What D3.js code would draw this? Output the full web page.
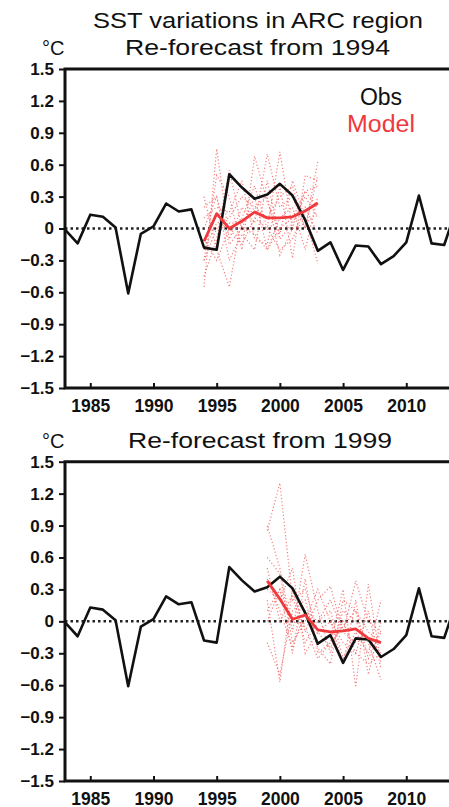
<!DOCTYPE html>
<html>
<head>
<meta charset="utf-8">
<script src="https://cdn.jsdelivr.net/npm/d3@7"></script>
<style>
html,body{margin:0;padding:0;background:#fff;}
svg{display:block;}
text{font-family:"Liberation Sans",Arial,Helvetica,sans-serif;}
</style>
</head>
<body>
<svg id="chart" width="449" height="807"></svg>
<script>
// ---------------- DATA ----------------
const obsYears = d3.range(1983, 2015);
const obsValues = [-0.01,-0.14,0.13,0.11,0.01,-0.61,-0.05,0.02,0.235,0.16,0.18,-0.18,-0.20,0.51,0.385,0.28,0.32,0.42,0.31,0.08,-0.21,-0.13,-0.39,-0.16,-0.17,-0.335,-0.26,-0.13,0.31,-0.14,-0.155,0.2];

const yearsA = d3.range(1994, 2004);
const modelMeanA = [-0.12,0.14,0.0,0.07,0.155,0.10,0.10,0.11,0.165,0.24];
const membersA = [
  [-0.55,0.75,-0.10,0.20,0.05,0.70,0.20,0.30,0.00,0.63],
  [0.30,-0.20,-0.55,0.10,0.40,0.00,0.72,0.00,0.35,0.20],
  [-0.30,0.50,0.30,-0.20,0.68,0.25,-0.05,0.45,0.10,-0.33],
  [0.10,0.20,0.15,0.45,-0.10,-0.15,0.40,-0.28,0.50,0.45],
  [-0.45,-0.10,0.55,0.00,0.30,-0.20,0.10,0.20,-0.20,0.30],
  [0.20,0.30,-0.30,-0.05,-0.20,0.45,-0.10,0.05,0.30,0.10],
  [-0.20,0.05,0.10,0.30,0.20,0.10,0.30,0.40,0.00,0.50],
  [-0.10,-0.30,0.00,-0.15,0.10,0.00,-0.20,-0.10,0.20,-0.05],
  [0.00,0.30,-0.15,0.00,-0.05,-0.20,0.00,0.10,0.35,0.40],
  [-0.30,0.00,0.05,0.05,0.20,0.30,-0.25,0.00,0.05,0.15]
];

const yearsB = d3.range(1999, 2009);
const modelMeanB = [0.38,0.21,0.02,0.06,-0.08,-0.10,-0.09,-0.07,-0.16,-0.20];
const membersB = [
  [0.85,1.30,0.20,0.30,-0.10,0.00,-0.20,-0.30,-0.40,-0.30],
  [0.90,0.50,-0.10,0.63,0.10,-0.30,0.10,0.00,-0.20,-0.55],
  [0.20,-0.57,0.30,-0.10,0.20,0.33,-0.10,0.38,0.00,-0.10],
  [0.00,0.30,-0.30,0.40,-0.30,-0.20,0.30,-0.62,0.35,-0.40],
  [0.50,0.00,0.25,-0.20,0.00,0.10,-0.35,-0.10,-0.30,0.20],
  [-0.20,-0.50,0.10,0.20,-0.25,-0.40,0.20,0.10,-0.10,-0.20],
  [0.60,0.45,-0.20,0.00,0.30,0.00,-0.40,0.20,-0.50,0.00],
  [0.30,0.20,0.50,-0.30,-0.10,-0.25,0.00,-0.30,0.10,-0.45],
  [0.40,0.10,-0.25,0.10,0.00,0.20,-0.10,-0.20,-0.15,-0.30],
  [0.10,0.30,0.00,-0.05,-0.35,-0.20,-0.05,0.10,-0.35,-0.10]
];

const yTickValues = [-1.5,-1.2,-0.9,-0.6,-0.3,0,0.3,0.6,0.9,1.2,1.5];
const xTickValues = [1985,1990,1995,2000,2005,2010];
const mainTitle = "SST variations in ARC region";
const panelTitles = ["Re-forecast from 1994", "Re-forecast from 1999"];
const unitLabel = "\u00B0C";
const legendLabels = ["Obs", "Model"];

// ---------------- DRAW ----------------
const svg = d3.select("#chart");
const W = 449;
const left = 65;
const x = d3.scaleLinear().domain([1983, 2014]).range([left, left + 31 * 12.64]);

const panels = [
  {top: 69, bottom: 388, title: panelTitles[0], years: yearsA, mean: modelMeanA, members: membersA, titleY: 55, titleX: 257.5, titleLen: 265},
  {top: 461.7, bottom: 781, title: panelTitles[1], years: yearsB, mean: modelMeanB, members: membersB, titleY: 448, titleX: 260, titleLen: 264}
];

const RED = "#f0393c";
const fmt = d => d === 0 ? "0" : d3.format(".1f")(d);

svg.append("text").attr("x", 258).attr("y", 28).attr("text-anchor", "middle")
  .attr("font-size", 21.5).attr("textLength", 330).attr("lengthAdjust", "spacingAndGlyphs")
  .attr("fill", "#111").text(mainTitle);

panels.forEach((p, i) => {
  const y = d3.scaleLinear().domain([-1.5, 1.5]).range([p.bottom, p.top]);
  const g = svg.append("g");
  const clipId = "clip" + i;
  svg.append("clipPath").attr("id", clipId).append("rect")
    .attr("x", left).attr("y", p.top - 2).attr("width", W - left).attr("height", p.bottom - p.top + 4);

  // titles
  g.append("text").attr("x", p.titleX).attr("y", p.titleY).attr("text-anchor", "middle")
    .attr("font-size", 21.5).attr("textLength", p.titleLen).attr("lengthAdjust", "spacingAndGlyphs")
    .attr("fill", "#111").text(p.title);
  g.append("text").attr("x", 42).attr("y", p.titleY).attr("font-size", 20)
    .attr("fill", "#111").text(unitLabel);

  const plot = g.append("g").attr("clip-path", `url(#${clipId})`);

  // zero line
  plot.append("line").attr("x1", left).attr("x2", W).attr("y1", y(0)).attr("y2", y(0))
    .attr("stroke", "#222").attr("stroke-width", 2.5).attr("stroke-dasharray", "2.5,3");

  // ensemble members
  const line = d3.line().x((d, k) => x(p.years[k])).y(d => y(d));
  plot.selectAll(".mem").data(p.members).join("path").attr("class", "mem")
    .attr("d", line).attr("fill", "none").attr("stroke", "#f26a6a")
    .attr("stroke-width", 1.2).attr("stroke-dasharray", "1.2,2.2").attr("opacity", 0.85);

  // observations
  const oline = d3.line().x((d, k) => x(obsYears[k])).y(d => y(d));
  plot.append("path").attr("d", oline(obsValues)).attr("fill", "none")
    .attr("stroke", "#111").attr("stroke-width", 2.6).attr("stroke-linejoin", "round");

  // model mean
  plot.append("path").attr("d", line(p.mean)).attr("fill", "none")
    .attr("stroke", RED).attr("stroke-width", 2.8).attr("stroke-linejoin", "round");

  // y axis
  const ya = g.append("g").attr("transform", `translate(${left},0)`)
    .call(d3.axisLeft(y).tickValues(yTickValues).tickFormat(fmt).tickSize(6).tickPadding(5));
  ya.select(".domain").remove();
  ya.selectAll(".tick line").attr("stroke", "#111").attr("stroke-width", 2);
  ya.selectAll(".tick text").attr("font-size", 17).attr("font-weight", "bold")
    .attr("font-family", "Liberation Sans, Arial, sans-serif").attr("fill", "#111");

  // x axis
  const xa = g.append("g").attr("transform", `translate(0,${p.bottom})`)
    .call(d3.axisBottom(x).tickValues(xTickValues).tickFormat(d3.format("d")).tickSize(-5).tickPadding(0));
  xa.select(".domain").remove();
  xa.selectAll(".tick line").attr("stroke", "#111").attr("stroke-width", 2);
  xa.selectAll(".tick text").attr("font-size", 17.5).attr("font-weight", "bold")
    .attr("font-family", "Liberation Sans, Arial, sans-serif").attr("fill", "#111")
    .attr("dy", null).attr("y", 23.5);

  // frame: left, top, bottom
  g.append("path")
    .attr("d", `M${W},${p.top}H${left}V${p.bottom}H${W}`)
    .attr("fill", "none").attr("stroke", "#111").attr("stroke-width", 3);

  if (i === 0) {
    g.append("text").attr("x", 381).attr("y", 104.5).attr("text-anchor", "middle")
      .attr("font-size", 23).attr("fill", "#111").text(legendLabels[0]);
    g.append("text").attr("x", 381).attr("y", 131.7).attr("text-anchor", "middle")
      .attr("font-size", 23).attr("textLength", 68).attr("lengthAdjust", "spacingAndGlyphs")
      .attr("fill", RED).text(legendLabels[1]);
  }
});
</script>
</body>
</html>
